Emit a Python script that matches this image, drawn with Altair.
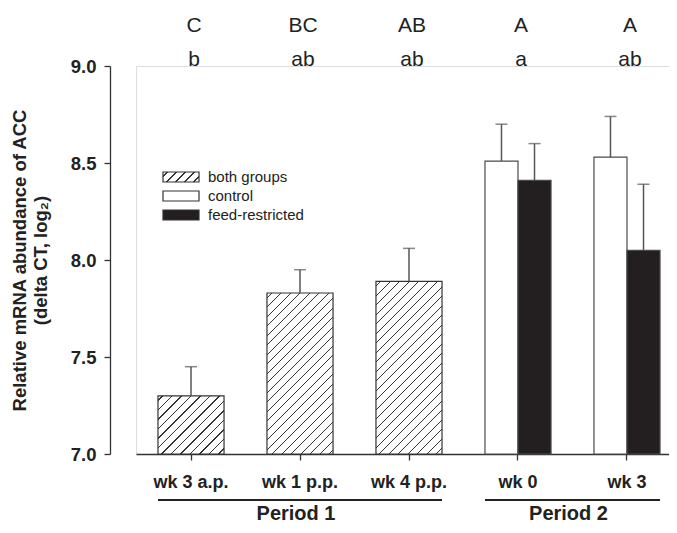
import altair as alt
import pandas as pd

# ---------------- data ----------------
weeks = ["wk 3 a.p.", "wk 1 p.p.", "wk 4 p.p.", "wk 0", "wk 3"]
both_weeks = ["wk 3 a.p.", "wk 1 p.p.", "wk 4 p.p."]
both_mean = [7.30, 7.83, 7.89]
both_se = [0.15, 0.12, 0.17]
split_weeks = ["wk 0", "wk 3"]
control_mean = [8.51, 8.53]
control_se = [0.19, 0.21]
restricted_mean = [8.41, 8.05]
restricted_se = [0.19, 0.34]
upper_letters = ["C", "BC", "AB", "A", "A"]
lower_letters = ["b", "ab", "ab", "a", "ab"]
legend_labels = ["both groups", "control", "feed-restricted"]
period_labels = ["Period 1", "Period 2"]
period_start = ["wk 3 a.p.", "wk 0"]
period_end = ["wk 4 p.p.", "wk 3"]
groups = ["control", "feed-restricted"]

# ---------------- layout / style ----------------
W, H = 533, 388
Y0, Y1 = 7.0, 9.0
P_IN, P_OUT, ALIGN = 0.394, 0.142, 0.71
FONT = "Liberation Sans"
INK = "#231f20"
TXT = "#222222"

step = W / (len(weeks) - P_IN + 2 * P_OUT)
bandwidth = step * (1 - P_IN)


def hatch(w, h, period=9.5, lw=1.1, color="#333333"):
    """Diagonal '/' hatching as a hard-stop linear gradient for a w x h box."""
    s = w + h
    k = s / (w * w + h * h)
    stops = [{"offset": 0.0, "color": "white"}]
    dt, dw = period / s, lw / s
    c = dt * 0.5
    while c - dw / 2 < 1:
        a, b = max(0.0, c - dw / 2), min(1.0, c + dw / 2)
        stops += [{"offset": a, "color": "white"}, {"offset": a, "color": color},
                  {"offset": b, "color": color}, {"offset": b, "color": "white"}]
        c += dt
    stops.append({"offset": 1.0, "color": "white"})
    return {"gradient": "linear", "x1": 0, "y1": 0, "x2": w * k, "y2": h * k, "stops": stops}


x_scale = alt.Scale(type="band", domain=weeks, paddingInner=P_IN, paddingOuter=P_OUT, align=ALIGN)
y_scale = alt.Scale(domain=[Y0, Y1], zero=False, nice=False)

x_enc = alt.X("week:N", scale=x_scale, sort=weeks,
              axis=alt.Axis(title=None, labelAngle=0, labelFont=FONT, labelFontWeight="bold",
                            labelFontSize=18, labelColor=TXT, tickSize=6, tickColor="#333",
                            tickWidth=1.3, domainColor="#333", domainWidth=1.3, labelPadding=13,
                            grid=False))
y_enc = alt.Y("mean:Q", scale=y_scale,
              axis=alt.Axis(values=[7.0, 7.5, 8.0, 8.5, 9.0], format=".1f", offset=26,
                            title=["Relative mRNA abundance of ACC", "(delta CT, log\u2082)"],
                            titleFont=FONT, titleFontWeight="bold", titleFontSize=18.5,
                            titleColor=TXT, titleLineHeight=21, titlePadding=20,
                            labelFont=FONT, labelFontWeight="bold", labelFontSize=18.5,
                            labelColor=TXT, labelPadding=8, tickSize=6, tickColor="#333",
                            tickWidth=1.3, domainColor="#333", domainWidth=1.3, grid=False))

both_df = pd.DataFrame({"week": both_weeks, "mean": both_mean, "se": both_se})
split_df = pd.DataFrame({
    "week": split_weeks * 2,
    "group": [groups[0]] * len(split_weeks) + [groups[1]] * len(split_weeks),
    "mean": control_mean + restricted_mean,
    "se": control_se + restricted_se,
})
letters_df = pd.DataFrame({"week": weeks, "upper": upper_letters, "lower": lower_letters})
period_df = pd.DataFrame({"label": period_labels, "start": period_start, "end": period_end})

layers = []

# hatched bars (one layer each: the hatch gradient depends on the bar's size)
for wk, m in zip(both_weeks, both_mean):
    h = (m - Y0) / (Y1 - Y0) * H
    layers.append(
        alt.Chart(both_df).transform_filter(alt.datum.week == wk)
        .mark_bar(fill=hatch(bandwidth, h), stroke="#333333", strokeWidth=1.2)
        .encode(x=x_enc, y=y_enc, y2=alt.datum(Y0))
    )

xoff = alt.XOffset("group:N", scale=alt.Scale(domain=groups, paddingInner=0, paddingOuter=0))

layers.append(
    alt.Chart(split_df).mark_bar(stroke="#4a4a4a", strokeWidth=1.2)
    .encode(x=x_enc, xOffset=xoff, y=y_enc, y2=alt.datum(Y0),
            fill=alt.Fill("group:N", scale=alt.Scale(domain=groups, range=["white", INK]),
                          legend=None))
)

err_color = "#555555"
# error bars, both groups
layers.append(
    alt.Chart(both_df).transform_calculate(upper="datum.mean + datum.se")
    .mark_rule(color=err_color, strokeWidth=1.5)
    .encode(x=alt.X("week:N", scale=x_scale), y=alt.Y("mean:Q", scale=y_scale), y2="upper:Q")
)
layers.append(
    alt.Chart(both_df).transform_calculate(upper="datum.mean + datum.se")
    .mark_tick(orient="horizontal", size=12, thickness=1.5, color=err_color)
    .encode(x=alt.X("week:N", scale=x_scale), y=alt.Y("upper:Q", scale=y_scale))
)
# error bars, split groups
layers.append(
    alt.Chart(split_df).transform_calculate(upper="datum.mean + datum.se")
    .mark_rule(color=err_color, strokeWidth=1.5)
    .encode(x=alt.X("week:N", scale=x_scale), xOffset=xoff,
            y=alt.Y("mean:Q", scale=y_scale), y2="upper:Q")
)
layers.append(
    alt.Chart(split_df).transform_calculate(upper="datum.mean + datum.se")
    .mark_tick(orient="horizontal", size=12, thickness=1.5, color=err_color)
    .encode(x=alt.X("week:N", scale=x_scale), xOffset=xoff, y=alt.Y("upper:Q", scale=y_scale))
)

# significance letters above the plot
layers.append(
    alt.Chart(letters_df).mark_text(font=FONT, fontSize=21, color=TXT, baseline="alphabetic", dx=3)
    .encode(x=alt.X("week:N", scale=x_scale), y=alt.value(-34), text="upper:N")
)
layers.append(
    alt.Chart(letters_df).mark_text(font=FONT, fontSize=21, color=TXT, baseline="alphabetic", dx=3)
    .encode(x=alt.X("week:N", scale=x_scale), y=alt.value(0), text="lower:N")
)

# period lines and labels
layers.append(
    alt.Chart(period_df).mark_rule(color=TXT, strokeWidth=2)
    .encode(x=alt.X("start:N", scale=x_scale, bandPosition=0),
            x2=alt.X2("end:N", bandPosition=1), y=alt.value(434))
)
# label centred under its line: offsets measured from the first band's right edge
n_bands = [3, 2]
for lab, nb in zip(period_labels, n_bands):
    shift = (nb - 1) * step / 2 - bandwidth / 2 - 4
    layers.append(
        alt.Chart(period_df).transform_filter(alt.datum.label == lab)
        .mark_text(font=FONT, fontSize=20, fontWeight="bold", color=TXT,
                   baseline="alphabetic", dx=shift)
        .encode(x=alt.X("start:N", scale=x_scale, bandPosition=1),
                y=alt.value(454), text="label:N")
    )

# manual legend
legend_fills = [hatch(36, 10, period=9.0), "white", INK]
legend_top = [106, 125, 144]
for lab, fill, top in zip(legend_labels, legend_fills, legend_top):
    one = pd.DataFrame({"label": [lab]})
    layers.append(
        alt.Chart(one).mark_rect(fill=fill, stroke="#333333", strokeWidth=1.2)
        .encode(x=alt.value(27), x2=alt.value(63), y=alt.value(top), y2=alt.value(top + 10))
    )
    layers.append(
        alt.Chart(one).mark_text(font=FONT, fontSize=15, color=TXT, align="left", baseline="middle")
        .encode(x=alt.value(72), y=alt.value(top + 5), text="label:N")
    )

chart = alt.layer(*layers).properties(
    width=W, height=H,
    autosize=alt.AutoSizeParams(type="none"),
    padding={"left": 128, "top": 58, "right": 0, "bottom": 71},
).configure_view(stroke=None).configure(background="white")

chart.save("out.html", embed_options={"renderer": "svg", "actions": False})
